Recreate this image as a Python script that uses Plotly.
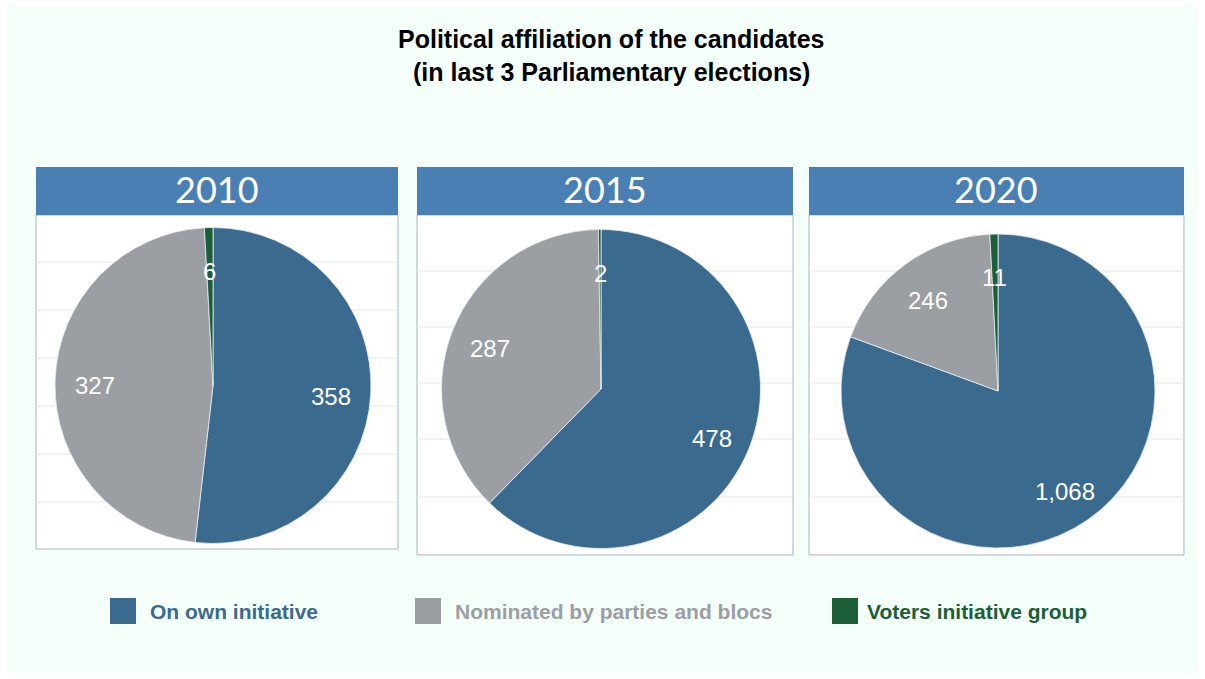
import math
import plotly.graph_objects as go

# ---- data ----
years = ["2010", "2015", "2020"]
categories = ["On own initiative", "Nominated by parties and blocs", "Voters initiative group"]
own_initiative = [358, 478, 1068]
nominated = [327, 287, 246]
voters_group = [6, 2, 11]

colors = ["#3b6a8f", "#9b9ea3", "#1b5e38"]
W, H = 1205, 679

def px(x):
    return x / W

def py(y):
    return 1 - y / H

# layout geometry (pixels)
panels = [  # x0, x1, header y0, header y1, bottom
    (36, 398, 167, 215, 549),
    (417, 793, 167, 215, 555),
    (809, 1184, 167, 215, 555),
]
pie_geo = [(213, 385.5, 158), (601, 389, 159.5), (998, 391, 157)]
grid_y = [
    [262, 310, 358, 406, 454, 502],
    [271, 327, 383, 439, 497],
    [271, 327, 383, 439, 497],
]

fig = go.Figure()
shapes = []
annotations = []

# background
shapes.append(dict(type="rect", xref="paper", yref="paper", x0=px(7), x1=px(1198), y0=py(673), y1=py(6),
                   fillcolor="#f5fffa", line=dict(width=0), layer="below"))

for i, yr in enumerate(years):
    x0, x1, hy0, hy1, bot = panels[i]
    # panel body
    shapes.append(dict(type="rect", xref="paper", yref="paper", x0=px(x0), x1=px(x1), y0=py(bot), y1=py(hy1),
                       fillcolor="white", line=dict(color="#a7b5bf", width=1), layer="below"))
    for gy in grid_y[i]:
        shapes.append(dict(type="line", xref="paper", yref="paper", x0=px(x0), x1=px(x1), y0=py(gy), y1=py(gy),
                           line=dict(color="#e1e5e9", width=1), layer="below"))
    # header
    shapes.append(dict(type="rect", xref="paper", yref="paper", x0=px(x0), x1=px(x1), y0=py(hy1), y1=py(hy0),
                       fillcolor="#4a7fb3", line=dict(width=0), layer="below"))
    annotations.append(dict(text=yr, xref="paper", yref="paper", x=px((x0 + x1) / 2), y=py((hy0 + hy1) / 2 - 2),
                            showarrow=False, xanchor="center", yanchor="middle",
                            font=dict(family="Lato", size=36, color="white")))

    vals = [own_initiative[i], nominated[i], voters_group[i]]
    cx, cy, r = pie_geo[i]
    fig.add_trace(go.Pie(
        labels=categories, values=vals, sort=False, direction="clockwise", rotation=0,
        marker=dict(colors=colors, line=dict(color="#e8eef3", width=0.8)),
        textinfo="none", hoverinfo="label+value", showlegend=False,
        domain=dict(x=[px(cx - r), px(cx + r)], y=[py(cy + r), py(cy - r)]),
    ))
    total = sum(vals)
    cum = 0
    for v in vals:
        mid = (cum + v / 2) / total * 2 * math.pi
        cum += v
        f = 0.75
        lx = cx + f * r * math.sin(mid)
        ly = cy - f * r * math.cos(mid) + 4
        annotations.append(dict(text=f"{v:,}", xref="paper", yref="paper", x=px(lx), y=py(ly),
                                showarrow=False, xanchor="center", yanchor="middle",
                                font=dict(family="Liberation Sans, Arial", size=24, color="white")))

# title
annotations.append(dict(text="<b>Political affiliation of the candidates</b>", xref="paper", yref="paper",
                        x=px(611), y=py(39), showarrow=False, xanchor="center", yanchor="middle",
                        font=dict(family="Liberation Sans, Arial", size=25, color="black")))
annotations.append(dict(text="<b>(in last 3 Parliamentary elections)</b>", xref="paper", yref="paper",
                        x=px(611), y=py(72), showarrow=False, xanchor="center", yanchor="middle",
                        font=dict(family="Liberation Sans, Arial", size=25, color="black")))

# legend
leg_sq = [110, 415, 832]
leg_tx = [148, 453, 865]
for k, name in enumerate(categories):
    shapes.append(dict(type="rect", xref="paper", yref="paper", x0=px(leg_sq[k]), x1=px(leg_sq[k] + 26),
                       y0=py(624), y1=py(598), fillcolor=colors[k], line=dict(width=0)))
    annotations.append(dict(text=f"<b>{name}</b>", xref="paper", yref="paper", x=px(leg_tx[k]), y=py(611),
                            showarrow=False, xanchor="left", yanchor="middle",
                            font=dict(family="Liberation Sans, Arial", size=21, color=colors[k])))

fig.update_layout(
    width=W, height=H, margin=dict(l=0, r=0, t=0, b=0),
    paper_bgcolor="white", plot_bgcolor="white",
    shapes=shapes, annotations=annotations, showlegend=False,
)

fig.write_html("out.html")
